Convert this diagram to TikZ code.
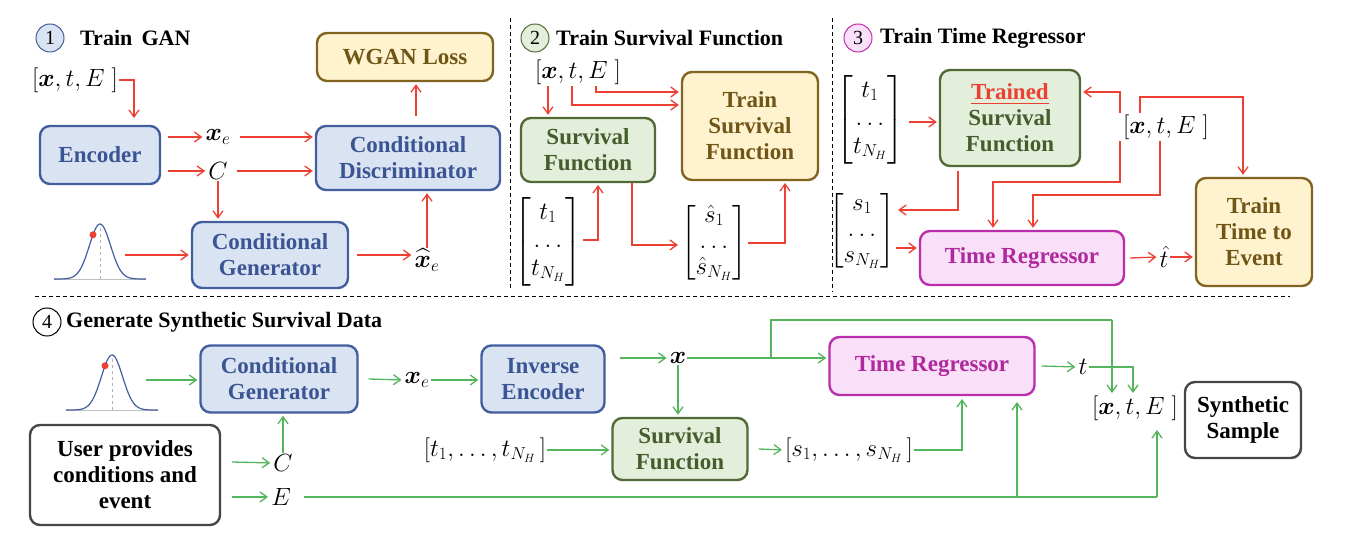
\documentclass[tikz,border=0pt]{standalone}
\usepackage{amsmath,bm}
\usepackage{fontspec}
\setmainfont{Liberation Serif}
\usetikzlibrary{arrows.meta,positioning}

\definecolor{bluefill}{RGB}{218,227,242}
\definecolor{blueline}{RGB}{66,94,158}
\definecolor{bluetext}{RGB}{58,84,148}
\definecolor{greenfill}{RGB}{227,239,219}
\definecolor{greenline}{RGB}{82,106,56}
\definecolor{greentext}{RGB}{70,92,45}
\definecolor{yellowfill}{RGB}{255,242,206}
\definecolor{yellowline}{RGB}{128,100,32}
\definecolor{yellowtext}{RGB}{112,86,22}
\definecolor{pinkfill}{RGB}{249,224,248}
\definecolor{pinkline}{RGB}{186,46,172}
\definecolor{pinktext}{RGB}{176,40,158}
\definecolor{redarrow}{RGB}{236,64,50}
\definecolor{greenarrow}{RGB}{84,182,92}
\definecolor{grayline}{RGB}{70,70,70}

\tikzset{
  box/.style={rounded corners=10pt, line width=2.4pt, align=center, inner sep=2pt,
    font=\fontsize{23}{26}\selectfont\bfseries},
  bluebox/.style={box, fill=bluefill, draw=blueline, text=bluetext},
  greenbox/.style={box, fill=greenfill, draw=greenline, text=greentext},
  yellowbox/.style={box, fill=yellowfill, draw=yellowline, text=yellowtext},
  pinkbox/.style={box, fill=pinkfill, draw=pinkline, text=pinktext},
  whitebox/.style={box, fill=white, draw=grayline, text=black},
  lbl/.style={inner sep=1pt, font=\fontsize{23}{26}\selectfont},
  title/.style={anchor=west, inner sep=0pt, font=\fontsize{22}{24}\selectfont\bfseries},
  stepnum/.style={circle, draw=blueline, line width=1pt, minimum size=28pt, inner sep=0pt,
    font=\fontsize{20}{22}\selectfont},
  redarr/.style={draw=redarrow, line width=1.3pt, shorten >=2pt, -{Straight Barb[length=7pt,width=10pt]}},
  grnarr/.style={draw=greenarrow, line width=1.3pt, shorten >=2pt, -{Straight Barb[length=7pt,width=10pt]}},
  grnline/.style={draw=greenarrow, line width=1.3pt},
  divider/.style={line width=1pt, dash pattern=on 4pt off 3pt},
}
\newcommand{\gaussian}[3]{% center x, baseline y, name
  \draw[gray!60, dashed] (#1,#2) -- (#1,#2-56);
  \draw[gray!50] (#1-46,#2) -- (#1+46,#2);
  \draw[blueline, line width=1.2pt, domain=-46:46, samples=60]
    plot (#1+\x, {#2-55*exp(-(\x/15)^2)});
  \fill[redarrow] (#1-7,{#2-55*exp(-(7/15)^2)}) circle (3.5pt);
  \coordinate (#3) at (#1+46,#2-25);
}

\begin{document}
\begin{tikzpicture}[x=1pt, y=-1pt]
  \useasboundingbox (0,0) rectangle (1366,534);

  %%-- DIVIDERS --%%
  \draw[divider] (510,18) -- (510,290);
  \draw[divider] (832,18) -- (832,292);
  \draw[divider] (35,297) -- (1290,297);

  %%-- 1: TRAIN GAN --%%
  \node[stepnum, fill=bluefill] (s1) at (50,38) {1};
  \node[title] at (80,38) {Train\, GAN};
  \node[lbl] (xte1) at (75,80) {$[\bm{x},t,E\;]$};
  \node[bluebox, minimum width=120pt, minimum height=58pt] (enc) at (100,155) {Encoder};
  \node[lbl] (xe1) at (218,137) {$\bm{x}_e$};
  \node[lbl] (c1) at (218,171) {$C$};
  \node[bluebox, minimum width=184pt, minimum height=64pt] (disc) at (408,158) {Conditional\\Discriminator};
  \node[yellowbox, minimum width=176pt, minimum height=48pt] (wgan) at (405,57) {WGAN Loss};
  \node[bluebox, minimum width=156pt, minimum height=66pt] (gen1) at (270,255) {Conditional\\Generator};
  \node[lbl] (xh1) at (427,260) {$\widehat{\bm{x}}_e$};
  \gaussian{100}{279}{g1}

  \draw[redarr] (xte1.east) -| (134,120);
  \draw[redarr] (168,137) -- (xe1.west);
  \draw[redarr] (168,171) -- (c1.west);
  \draw[redarr] (xe1.east) ++(8,0) -- (disc.west |- xe1);
  \draw[redarr] (c1.east) ++(8,0) -- (disc.west |- c1);
  \draw[redarr] (c1.south) -- (gen1.north -| c1);
  \draw[redarr] (416,116) -- (wgan.south -| 416,0);
  \draw[redarr] (125,255) -- (gen1.west);
  \draw[redarr] (gen1.east) ++(8,0) -- (xh1.west |- gen1);
  \draw[redarr] (xh1.north) -- (disc.south -| xh1);

  %%-- 2: TRAIN SURVIVAL FUNCTION --%%
  \node[stepnum, fill=greenfill, draw=greenline] (s2) at (535,38) {2};
  \node[title] at (556,38) {Train Survival Function};
  \node[lbl] (xte2) at (578,72) {$[\bm{x},t,E\;]$};
  \node[greenbox, minimum width=134pt, minimum height=64pt] (sf2) at (588,150) {Survival\\Function};
  \node[yellowbox, minimum width=136pt, minimum height=108pt] (tsf) at (750,126) {Train\\Survival\\Function};
  \node[lbl] (tm2) at (548,242) {$\left[\begin{matrix} t_1\\[2pt] \dots\\[2pt] t_{N_H}\end{matrix}\right]$};
  \node[lbl] (sm2) at (714,243) {$\left[\begin{matrix} \hat{s}_1\\ \dots\\ \hat{s}_{N_H}\end{matrix}\right]$};

  \draw[redarr] (548,86) -- (sf2.north -| 548,0);
  \draw[redarr] (572,86) |- (tsf.west |- 0,105);
  \draw[redarr] (596,86) |- (tsf.west |- 0,92);
  \draw[redarr] (tm2.east |- 0,240) -| (598,183);
  \draw[redarr] (632,183) |- (sm2.west |- 0,245);
  \draw[redarr] (sm2.east |- 0,243) -| (785,181);

  %%-- 3: TRAIN TIME REGRESSOR --%%
  \node[stepnum, fill=pinkfill, draw=pinkline] (s3) at (858,38) {3};
  \node[title] at (880,38) {Train Time Regressor};
  \node[lbl] (tm3) at (870,120) {$\left[\begin{matrix} t_1\\[2pt] \dots\\[2pt] t_{N_H}\end{matrix}\right]$};
  \node[greenbox, minimum width=140pt, minimum height=96pt] (tsf3) at (1010,118)
    {\textcolor{redarrow}{\underline{Trained}}\\Survival\\Function};
  \node[lbl] (xte3) at (1166,127) {$[\bm{x},t,E\;]$};
  \node[lbl] (sm3) at (862,231) {$\left[\begin{matrix} s_1\\ \dots\\ s_{N_H}\end{matrix}\right]$};
  \node[pinkbox, minimum width=204pt, minimum height=54pt] (tr3) at (1022,258) {Time Regressor};
  \node[lbl] (th3) at (1164,257) {$\hat{t}$};
  \node[yellowbox, minimum width=116pt, minimum height=108pt] (tte) at (1254,232) {Train\\Time to\\Event};

  \draw[redarr] (tm3.east |- 0,122) ++(4,0) -- (tsf3.west |- 0,122);
  \draw[redarr] (1120,113) |- (tsf3.east |- 0,92);
  \draw[redarr] (1140,113) |- (1243,97) -- (tte.north -| 1243,0);
  \draw[redarr] (1120,141) |- (993,182) -- (tr3.north -| 993,0);
  \draw[redarr] (1160,141) |- (1033,195) -- (tr3.north -| 1033,0);
  \draw[redarr] (958,171) |- (sm3.east |- 0,210);
  \draw[redarr] (sm3.east |- 0,248) -- (tr3.west |- 0,248);
  \draw[redarr] (tr3.east) ++(5,0) -- (th3.west);
  \draw[redarr] (th3.east) -- (tte.west |- th3);

  %%-- 4: GENERATE SYNTHETIC SURVIVAL DATA --%%
  \node[stepnum, draw=black, fill=white] (s4) at (47,322) {4};
  \node[title] at (66,322) {Generate Synthetic Survival Data};
  \gaussian{112}{410}{g4}
  \node[bluebox, minimum width=157pt, minimum height=67pt] (gen4) at (279,379) {Conditional\\Generator};
  \node[lbl] (xe4) at (417,380) {$\bm{x}_e$};
  \node[bluebox, minimum width=123pt, minimum height=67pt] (ienc) at (543,379) {Inverse\\Encoder};
  \node[lbl] (x4) at (678,358) {$\bm{x}$};
  \node[greenbox, minimum width=135pt, minimum height=62pt] (sf4) at (680,449) {Survival\\Function};
  \node[lbl] (tl4) at (485,450) {$\left[t_1,\dots,t_{N_H}\,\right]$};
  \node[lbl] (sl4) at (849,450) {$\left[s_1,\dots,s_{N_H}\,\right]$};
  \node[pinkbox, minimum width=205pt, minimum height=58pt] (tr4) at (932,366) {Time Regressor};
  \node[lbl] (t4) at (1083,367) {$t$};
  \node[lbl] (xte4) at (1135,408) {$[\bm{x},t,E\;]$};
  \node[whitebox, minimum width=190pt, minimum height=100pt] (user) at (125,475) {User provides\\conditions and\\event};
  \node[lbl] (c4) at (283,463) {$C$};
  \node[lbl] (e4) at (281,497) {$E$};
  \node[whitebox, minimum width=116pt, minimum height=76pt] (syn) at (1243,420) {Synthetic\\Sample};

  \draw[grnarr] (146,380) -- (gen4.west |- 0,380);
  \draw[grnarr] (gen4.east) ++(10,0) -- (xe4.west);
  \draw[grnarr] (xe4.east) -- (ienc.west |- xe4);
  \draw[grnarr] (620,358) -- (x4.west);
  \draw[grnarr] (x4.south) -- (sf4.north -| x4);
  \draw[grnarr] (tl4.east) -- (sf4.west |- tl4);
  \draw[grnarr] (sf4.east) ++(10,0) -- (sl4.west);
  \draw[grnarr] (sl4.east) -| (962,397);
  \draw[grnarr] (x4.east) -- (tr4.west |- x4);
  \draw[grnline] (771,358) |- (1112,320);
  \draw[grnarr] (1112,320) -- (1112,395);
  \draw[grnarr] (tr4.east) ++(6,0) -- (t4.west);
  \draw[grnarr] (t4.east) -| (1133,395);
  \draw[grnarr] (232,462) -- (c4.west);
  \draw[grnarr] (232,497) -- (e4.west);
  \draw[grnarr] (c4.north) -- (gen4.south -| c4);
  \draw[grnline] (e4.east) ++(12,0) -- (1157,497);
  \draw[grnarr] (1157,497) -- (1157,428);
  \draw[grnarr] (1017,497) -- (1017,400);

\end{tikzpicture}
\end{document}
